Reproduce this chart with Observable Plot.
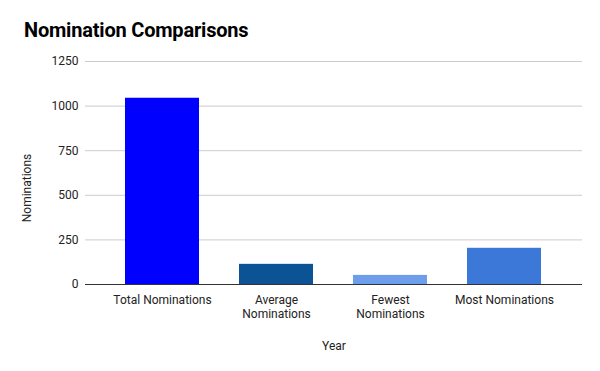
<!DOCTYPE html>
<html>
<head>
<meta charset="utf-8">
<script src="https://cdn.jsdelivr.net/npm/d3@7"></script>
<script src="https://cdn.jsdelivr.net/npm/@observablehq/plot@0.6"></script>
<style>
  html, body { margin: 0; padding: 0; background: #fff; }
  #wrap { position: relative; width: 600px; height: 371px; font-family: Roboto, "Noto Sans", sans-serif; }
  #title { position: absolute; left: 24px; top: 18px; font-size: 20px; font-weight: bold; color: #000; letter-spacing: -0.2px; z-index: 2; }
  svg { font-family: Roboto, "Noto Sans", sans-serif; }
</style>
</head>
<body>
<div id="wrap"><div id="title">Nomination Comparisons</div></div>
<script>
const categories = ["Total Nominations", "Average Nominations", "Fewest Nominations", "Most Nominations"];
const tickLabels = ["Total Nominations", "Average\nNominations", "Fewest\nNominations", "Most Nominations"];
const values = [1044, 113, 51, 203];
const colors = ["#0000ff", "#0b5394", "#6d9eeb", "#3c78d8"];
const yTicks = [0, 250, 500, 750, 1000, 1250];

const data = categories.map((c, i) => ({category: c, value: values[i], color: colors[i]}));

const chart = Plot.plot({
  width: 600,
  height: 371,
  marginLeft: 85,
  marginRight: 18,
  marginTop: 61,
  marginBottom: 87,
  style: {fontSize: "12px", fontFamily: "Roboto, 'Noto Sans', sans-serif", color: "#222", background: "#fff"},
  x: {domain: categories, padding: 0.35},
  y: {domain: [0, 1250]},
  marks: [
    Plot.gridY(yTicks, {stroke: "#cccccc", strokeOpacity: 1}),
    Plot.barY(data, {x: "category", y: "value", fill: "color"}),
    Plot.ruleY([0], {stroke: "#333", strokeWidth: 1.2}),
    Plot.axisY({ticks: yTicks, tickSize: 0, tickPadding: 7, tickFormat: d3.format("d"), label: null, fill: "#222"}),
    Plot.axisX({tickSize: 0, tickPadding: 9, tickFormat: (d) => tickLabels[categories.indexOf(d)], label: null, fill: "#222", lineHeight: 1.2}),
    Plot.text(["Year"], {frameAnchor: "bottom", dy: 65, fill: "#222", fontSize: 12})
  ]
});

chart.style.position = "absolute";
chart.style.left = "0";
chart.style.top = "0";
document.getElementById("wrap").appendChild(chart);
d3.select(chart).append("text")
  .attr("transform", "translate(31,188) rotate(-90)")
  .attr("text-anchor", "middle")
  .attr("fill", "#222")
  .attr("font-size", 12)
  .text("Nominations");
</script>
</body>
</html>
